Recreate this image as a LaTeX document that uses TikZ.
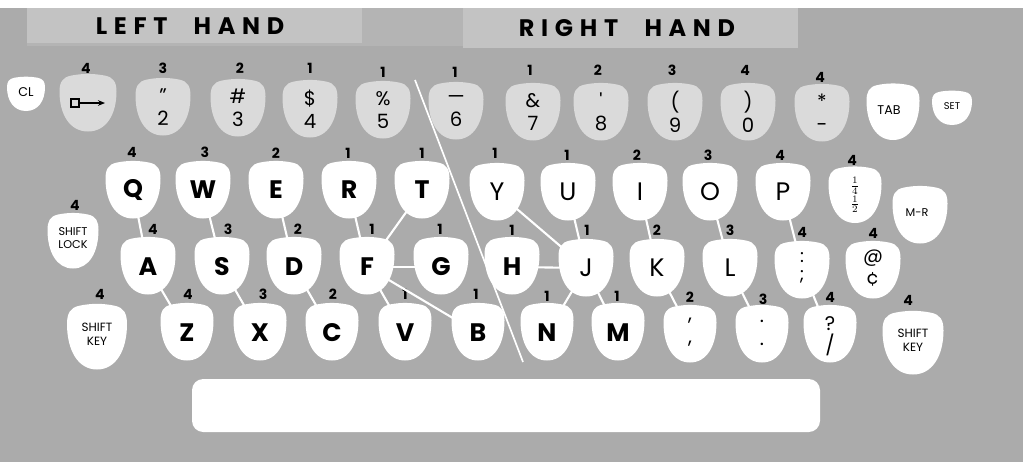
\documentclass[tikz,border=0pt]{standalone}
\usepackage{fontspec}
\setsansfont{Poppins}
\newfontfamily\platefont{Poppins}[LetterSpace=28]
\usetikzlibrary{arrows.meta}
\definecolor{panel}{HTML}{ABABAB}
\definecolor{strip}{HTML}{B4B4B4}
\definecolor{plate}{HTML}{C3C3C3}
\definecolor{numkey}{HTML}{DADADA}
\tikzset{
  pics/egg/.style={code={\fill[#1] (-0.3,-0.48)
      .. controls (-0.1,-0.52) and (0.1,-0.52) .. (0.3,-0.48)
      .. controls (0.45,-0.45) and (0.5,-0.36) .. (0.5,-0.2)
      .. controls (0.5,0.2) and (0.32,0.5) .. (0,0.5)
      .. controls (-0.32,0.5) and (-0.5,0.2) .. (-0.5,-0.2)
      .. controls (-0.5,-0.36) and (-0.45,-0.45) .. (-0.3,-0.48) -- cycle;}},
  keytext/.style={font=\sffamily\bfseries\fontsize{18}{18}\selectfont,inner sep=1pt},
  thinkey/.style={font=\sffamily\fontsize{18}{18}\selectfont,inner sep=1pt},
  symtext/.style={font=\sffamily\fontsize{14}{16}\selectfont,align=center,inner sep=1pt},
  smalltext/.style={font=\sffamily\fontsize{8}{10}\selectfont,align=center,inner sep=1pt},
  finger/.style={font=\sffamily\bfseries\fontsize{10}{10}\selectfont,inner sep=0pt},
  headtext/.style={font=\platefont\bfseries\fontsize{17}{17}\selectfont,inner sep=0pt},
  reach/.style={white,line width=1.5pt}
}
\begin{document}
\begin{tikzpicture}[x=0.025cm,y=-0.025cm]
\useasboundingbox (0,0) rectangle (1023,466);
\fill[white] (0,0) rectangle (1023,466);
\fill[panel] (0,8) rectangle (1023,462);
% name plates
\fill[strip] (27,8) rectangle (798,46);
\fill[plate] (27,8) rectangle (362,43);
\fill[plate] (463,8) rectangle (798,48);
\node[headtext] (lefthand) at (190,26) {LEFT\hspace{1.1em}HAND};
\node[headtext] (righthand) at (627,28) {RIGHT\hspace{1.1em}HAND};
% dividing line between the hands
\draw[white,line width=1.2pt] (415,80) -- (523,362);
% number row
\pic[xscale=57,yscale=57] at (88,103) {egg=numkey};
\node[minimum width=20pt,minimum height=10pt,inner sep=0pt] (kArrow) at (88,103) {};
\draw[line width=1.4pt] (71,99) rectangle (79,107);
\draw[-{Stealth[length=5pt,width=4pt]},line width=1pt] (79,103) -- (105,103);
\foreach \d/\s/\x/\y in {2/{"}/163/107,3/\#/238/108,4/\$/310/109,5/\%/383/110,
    6/\textemdash/456/111,7/\&/533/112,8/\textquotesingle/601/112,9/(/675/112,0/)/748/112}{
  \pic[xscale=55,yscale=57] at (\x,\y) {egg=numkey};
  \node[symtext] (k\d) at (\x,\y) {\s\\\d};
}
\pic[xscale=55,yscale=57] at (822,113) {egg=numkey};
\node[symtext] (kMinus) at (822,113) {*\\-};
\pic[xscale=38,yscale=34] at (26,94) {egg=white};
\node[smalltext,font=\sffamily\fontsize{9}{10}\selectfont] (kCL) at (26,92) {CL};
\pic[xscale=53,yscale=56] at (893,112) {egg=white};
\node[smalltext,font=\sffamily\fontsize{9}{10}\selectfont] (kTab) at (889,110) {TAB};
\pic[xscale=40,yscale=34] at (952,108) {egg=white};
\node[smalltext,font=\sffamily\fontsize{7}{8}\selectfont] (kSet) at (952,106) {SET};
% upper row
\foreach \t/\x in {Q/133,W/203,E/276,R/349,T/422}{
  \pic[xscale=55,yscale=57] at (\x,190) {egg=white};
  \node[keytext] (k\t) at (\x,190) {\t};
}
\foreach \t/\x in {Y/497,U/568,I/640,O/710,P/783}{
  \pic[xscale=55,yscale=57] at (\x,192) {egg=white};
  \node[thinkey] (k\t) at (\x,192) {\t};
}
\pic[xscale=53,yscale=56] at (855,195) {egg=white};
\node[inner sep=1pt,align=center,font=\fontsize{10}{13}\selectfont] (kFrac) at (855,195) {$\frac{1}{4}$\\$\frac{1}{2}$};
\pic[xscale=55,yscale=57] at (920,215) {egg=white};
\node[smalltext] (kMR) at (917,213) {M-R};
% home row
\pic[xscale=51,yscale=55] at (73,241) {egg=white};
\node[smalltext,font=\sffamily\fontsize{8}{9.5}\selectfont] (kLock) at (73,238) {SHIFT\\LOCK};
\foreach \t/\x in {A/148,S/222,D/294,F/367,G/441,H/512}{
  \pic[xscale=55,yscale=57] at (\x,266) {egg=white};
  \node[keytext] (k\t) at (\x,267) {\t};
}
\foreach \t/\x in {J/586,K/657,L/730}{
  \pic[xscale=55,yscale=57] at (\x,268) {egg=white};
  \node[thinkey] (k\t) at (\x,268) {\t};
}
\pic[xscale=55,yscale=57] at (802,270) {egg=white};
\node[symtext,font=\sffamily\fontsize{13}{12.5}\selectfont] (kColon) at (802,268) {:\\;};
\pic[xscale=55,yscale=57] at (873,270) {egg=white};
\node[symtext] (kAt) at (873,268) {@\\¢};
% lower row
\pic[xscale=60,yscale=65] at (97,337) {egg=white};
\node[smalltext,font=\sffamily\fontsize{8.5}{10}\selectfont] (kShiftL) at (97,334) {SHIFT\\KEY};
\foreach \t/\x in {Z/187,X/260,C/332,V/405,B/478,N/547,M/618}{
  \pic[xscale=53,yscale=57] at (\x,332) {egg=white};
  \node[keytext] (k\t) at (\x,333) {\t};
}
\pic[xscale=53,yscale=57] at (690,334) {egg=white};
\node[symtext] (kComma) at (690,332) {,\\,};
\pic[xscale=53,yscale=57] at (762,334) {egg=white};
\node[symtext] (kPeriod) at (762,333) {.\\.};
\pic[xscale=53,yscale=57] at (830,334) {egg=white};
\node[symtext] (kSlash) at (830,336) {?\\/};
\pic[xscale=61,yscale=63] at (913,343) {egg=white};
\node[smalltext,font=\sffamily\fontsize{8.5}{10}\selectfont] (kShiftR) at (913,340) {SHIFT\\KEY};
% space bar
\fill[white,rounded corners=8pt] (192,379) rectangle (820,432);
% finger numbers
\foreach \x/\y/\n [count=\i] in {86/68/4,163/68/3,240/68/2,310/68/1,383/72/1,455/72/1,530/70/1,
    598/70/2,672/70/3,745/70/4,820/77/4,
    132/152/4,205/152/3,276/153/2,348/153/1,422/153/1,495/153/1,567/155/1,637/155/2,
    708/155/3,780/155/4,852/160/4,75/205/4,
    153/229/4,228/229/3,298/229/2,372/229/1,440/229/1,512/230/1,587/230/1,657/230/2,
    730/230/3,802/232/4,873/233/4,
    100/294/4,188/294/4,263/294/3,333/294/2,405/294/1,476/294/1,547/296/1,617/296/1,
    690/297/2,763/299/3,830/297/4,908/300/4}
  \node[finger] (f\i) at (\x,\y) {\n};
% reach lines
\foreach \a/\b in {Q/A,W/S,E/D,R/F,T/F,F/G,F/B,A/Z,S/X,D/C,F/V,Y/J,U/J,I/K,O/L,
    P/Colon,H/J,J/N,J/M,K/Comma,L/Period,Colon/Slash}
  \draw[reach] (k\a) -- (k\b);
\end{tikzpicture}
\end{document}
